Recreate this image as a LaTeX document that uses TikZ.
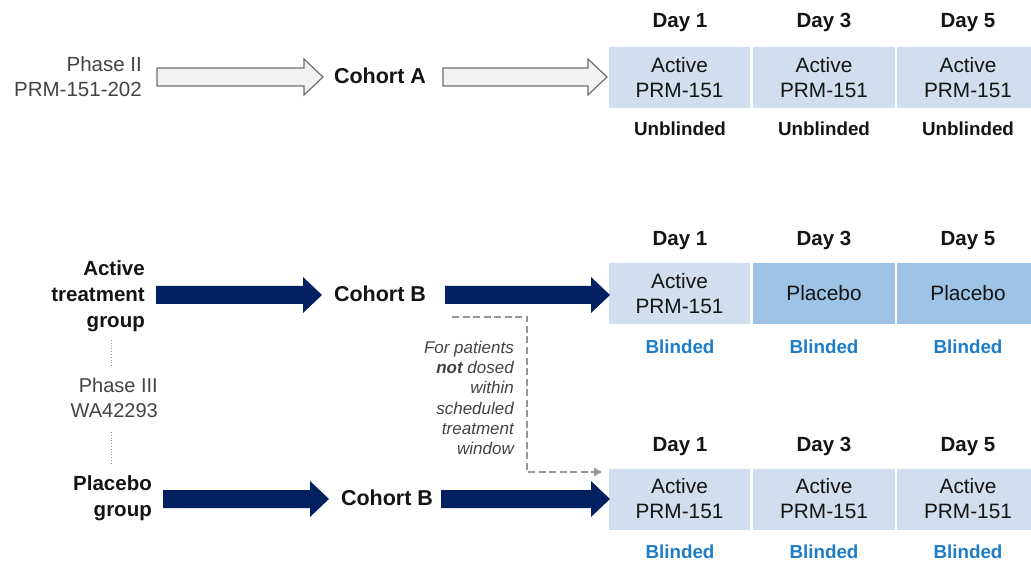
\documentclass[tikz,border=0pt]{standalone}
\usepackage{fontspec}
\setmainfont{Liberation Sans}
\usetikzlibrary{arrows.meta,calc}
\definecolor{boxlight}{RGB}{209,222,240}
\definecolor{boxplac}{RGB}{157,195,230}
\definecolor{navy}{RGB}{0,32,96}
\definecolor{blindblue}{RGB}{31,125,200}
\definecolor{txt}{RGB}{20,20,20}
\definecolor{wfill}{RGB}{242,242,242}
\definecolor{wdraw}{RGB}{110,110,110}
\definecolor{dgray}{RGB}{150,150,150}
\newcommand\blockarrow[3]{%
  \path[#3] let \p1=(#1), \p2=(#2) in
    (\x1,\y1-9) -- (\x2-19,\y1-9) -- (\x2-19,\y1-18) -- (\x2,\y1)
    -- (\x2-19,\y1+18) -- (\x2-19,\y1+9) -- (\x1,\y1+9) -- cycle;}
\tikzset{
  daylbl/.style={font=\fontsize{20.5}{22}\selectfont\bfseries, text=txt,
    text height=15pt, text depth=4.5pt},
  boxx/.style={minimum height=61pt, inner sep=0pt, align=center, text=txt,
    font=\fontsize{20.8}{25}\selectfont},
  actbox/.style={boxx, fill=boxlight},
  placbox/.style={boxx, fill=boxplac},
  unbl/.style={font=\fontsize{18.8}{22}\selectfont\bfseries, text=txt,
    text height=14pt, text depth=4pt},
  bl/.style={font=\fontsize{18.8}{22}\selectfont\bfseries, text=blindblue,
    text height=14pt, text depth=4pt},
  cohort/.style={font=\fontsize{21.5}{22}\selectfont\bfseries, text=txt},
  leftlbl/.style={align=right, inner sep=0pt, text=txt},
  whitearrow/.style={fill=wfill, draw=wdraw, line width=1.2pt},
  navyarrow/.style={fill=navy},
  dashconn/.style={draw=dgray, line width=1.6pt, dash pattern=on 7pt off 3.5pt,
    -{Triangle[length=8pt,width=8pt]}},
  dotconn/.style={draw=dgray, line width=0.8pt, dotted},
}
\begin{document}
\begin{tikzpicture}[x=1pt,y=-1pt]
\useasboundingbox (0,0) rectangle (1031,561);
% ---------- day headers ----------
\foreach \r/\yd in {A/22, B/240, C/446} {
  \node[daylbl] (\r d1) at (680,\yd) {Day 1};
  \node[daylbl] (\r d3) at (824,\yd) {Day 3};
  \node[daylbl] (\r d5) at (968,\yd) {Day 5};
}
% ---------- Row A ----------
\node[actbox, minimum width=141pt] (A1) at (679.5,77.5) {Active\\PRM-151};
\node[actbox, minimum width=142pt] (A2) at (824,77.5) {Active\\PRM-151};
\node[actbox, minimum width=134pt] (A3) at (964,77.5) {\hspace*{8pt}Active\\\hspace*{8pt}PRM-151};
\node[unbl] (Au1) at (680,131) {Unblinded};
\node[unbl] (Au2) at (824,131) {Unblinded};
\node[unbl] (Au3) at (968,131) {Unblinded};
% ---------- Row B ----------
\node[actbox, minimum width=141pt] (B1) at (679.5,293.5) {Active\\PRM-151};
\node[placbox, minimum width=142pt] (B2) at (824,293.5) {Placebo};
\node[placbox, minimum width=134pt] (B3) at (964,293.5) {\hspace*{8pt}Placebo};
\node[bl] (Bb1) at (680,348) {Blinded};
\node[bl] (Bb2) at (824,348) {Blinded};
\node[bl] (Bb3) at (968,348) {Blinded};
% ---------- Row C ----------
\node[actbox, minimum width=141pt] (C1) at (679.5,499) {Active\\PRM-151};
\node[actbox, minimum width=142pt] (C2) at (824,499) {Active\\PRM-151};
\node[actbox, minimum width=134pt] (C3) at (964,499) {\hspace*{8pt}Active\\\hspace*{8pt}PRM-151};
\node[bl] (Cb1) at (680,553) {Blinded};
\node[bl] (Cb2) at (824,553) {Blinded};
\node[bl] (Cb3) at (968,553) {Blinded};

% ---------- left labels ----------
\node[leftlbl, anchor=east, font=\fontsize{20.5}{25}\selectfont, text=txt!80] (ph2) at (142,76.5) {Phase II\\PRM-151-202};
\node[cohort] (coA) at (380,76) {Cohort A};
\node[leftlbl, anchor=east, font=\fontsize{20.5}{26}\selectfont\bfseries] (act) at (145,296) {Active\\treatment\\group};
\node[cohort] (coB) at (380,294) {Cohort B};
\node[leftlbl, anchor=east, font=\fontsize{20}{25}\selectfont, text=txt!80] (ph3) at (158,397.5) {Phase III\\WA42293};
\node[leftlbl, anchor=east, font=\fontsize{20.5}{26}\selectfont\bfseries] (plc) at (152,498) {Placebo\\group};
\node[cohort] (coC) at (387,498) {Cohort B};

% dotted connectors
\coordinate (dt1) at (111,340);
\coordinate (dt2) at (111,366);
\coordinate (dt3) at (111,432);
\coordinate (dt4) at (111,465);
\draw[dotconn] (dt1) -- (dt2);
\draw[dotconn] (dt3) -- (dt4);

% block arrows
\coordinate (a1s) at (157,77);  \coordinate (a1e) at (323,77);
\coordinate (a2s) at (443,77);  \coordinate (a2e) at (607,77);
\coordinate (b1s) at (156,295); \coordinate (b1e) at (322,295);
\coordinate (b2s) at (445,295); \coordinate (b2e) at (610,295);
\coordinate (c1s) at (163,499); \coordinate (c1e) at (329,499);
\coordinate (c2s) at (441,499); \coordinate (c2e) at (610,499);
\blockarrow{a1s}{a1e}{whitearrow}
\blockarrow{a2s}{a2e}{whitearrow}
\blockarrow{b1s}{b1e}{navyarrow}
\blockarrow{b2s}{b2e}{navyarrow}
\blockarrow{c1s}{c1e}{navyarrow}
\blockarrow{c2s}{c2e}{navyarrow}

% dashed connector
\coordinate (ds) at (452,317);
\coordinate (de) at (602,472);
\draw[dashconn] (ds) -- ++(75,0) |- (de);
\node[anchor=north east, align=right, inner sep=0pt, text=txt!80,
  font=\fontsize{17}{20.2}\selectfont\itshape] (note) at (514,341)
  {For patients\\\textbf{not} dosed\\within\\scheduled\\treatment\\window};
\end{tikzpicture}
\end{document}
